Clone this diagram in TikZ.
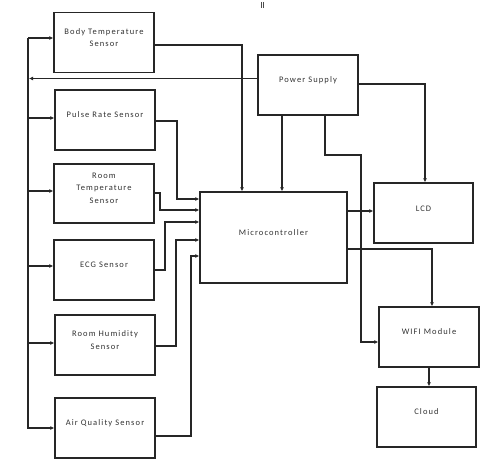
\documentclass[tikz,border=0pt]{standalone}
\usepackage{fontspec}
\setmainfont{Carlito}[LetterSpace=13]
\usetikzlibrary{arrows.meta}
\begin{document}
\begin{tikzpicture}[x=1pt,y=-1pt,
  box/.style={draw=black!85, line width=1.4pt, minimum width=100pt, minimum height=60pt, inner sep=0pt},
  txt/.style={font=\fontsize{8.5}{12.5}\selectfont, align=center, text=black!80, inner sep=0pt},
  conn/.style={draw=black!85, line width=1.4pt},
  arr/.style={conn, -{Latex[length=4pt,width=4pt]}}]
\useasboundingbox[fill=white] (0,0) rectangle (489,460);
% boxes
\node[box] (bt) at (104,42.5) {};
\node[box] (pr) at (105,120) {};
\node[box, minimum height=59pt] (rt) at (104,193.5) {};
\node[box] (ecg) at (104,270) {};
\node[box] (rh) at (105,345) {};
\node[box] (aq) at (105,428) {};
\node[box] (ps) at (308,85) {};
\node[box, minimum width=147pt, minimum height=91pt] (mc) at (273.5,237.5) {};
\node[box, minimum width=99pt] (lcd) at (423.5,213) {};
\node[box] (wifi) at (429,337) {};
\node[box, minimum width=99pt] (cloud) at (426.5,417) {};
% texts
\node[txt] (btt) at ([yshift=5pt]bt.center) {Body Temperature\\Sensor};
\node[txt] (prt) at ([yshift=5pt]pr.center) {Pulse Rate Sensor};
\node[txt] (rtt) at ([yshift=5.5pt]rt.center) {Room\\Temperature\\Sensor};
\node[txt] (ecgt) at ([yshift=5pt]ecg.center) {ECG Sensor};
\node[txt] (rht) at ([yshift=5pt]rh.center) {Room Humidity\\Sensor};
\node[txt] (aqt) at ([yshift=5pt]aq.center) {Air Quality Sensor};
\node[txt] (pst) at ([yshift=5pt]ps.center) {Power Supply};
\node[txt] (mct) at ([yshift=4.5pt]mc.center) {Microcontroller};
\node[txt] (lcdt) at ([yshift=4pt]lcd.center) {LCD};
\node[txt] (wifit) at ([yshift=5pt]wifi.center) {WIFI Module};
\node[txt] (cloudt) at ([yshift=5pt]cloud.center) {Cloud};
% left power bus
\coordinate (bustop) at (28,38);
\coordinate (busbot) at (28,428);
\draw[arr] (bustop) -- (bt.west |- bustop);
\draw[arr] (bustop) -- (busbot) -- (aq.west |- busbot);
\draw[arr] (28,118) -- (pr.west |- 0,118);
\draw[arr] (28,191) -- (rt.west |- 0,191);
\draw[arr] (28,266) -- (ecg.west |- 0,266);
\draw[arr] (28,343) -- (rh.west |- 0,343);
% power supply
\draw[arr] (ps.west |- 0,78.5) -- (29,78.5);
\draw[arr] (ps.east |- 0,84) -| (lcd.north -| 425,0);
\draw[arr] (ps.south -| 282,0) -- (mc.north -| 282,0);
\draw[arr] (ps.south -| 325,0) |- (361,155) |- (wifi.west |- 0,342);
% microcontroller outputs
\draw[arr] (mc.east |- 0,211) -- (lcd.west |- 0,211);
\draw[arr] (mc.east |- 0,249) -| (wifi.north -| 432,0);
\draw[arr] (wifi.south -| 429,0) -- (cloud.north -| 429,0);
% sensors to microcontroller
\draw[arr] (bt.east |- 0,45) -| (mc.north -| 242,0);
\draw[arr] (pr.east |- 0,121) -| (177,199) -- (mc.west |- 0,199);
\draw[arr] (rt.east |- 0,193) -| (160,210) -- (mc.west |- 0,210);
\draw[arr] (ecg.east |- 0,270) -| (165,222) -- (mc.west |- 0,222);
\draw[arr] (rh.east |- 0,346) -| (176,240) -- (mc.west |- 0,240);
\draw[arr] (aq.east |- 0,436) -| (191,256) -- (mc.west |- 0,256);
% small mark at top
\draw[black!70, line width=0.5pt] (261,2) -- (261,8) (263,2) -- (263,8);
\end{tikzpicture}
\end{document}
